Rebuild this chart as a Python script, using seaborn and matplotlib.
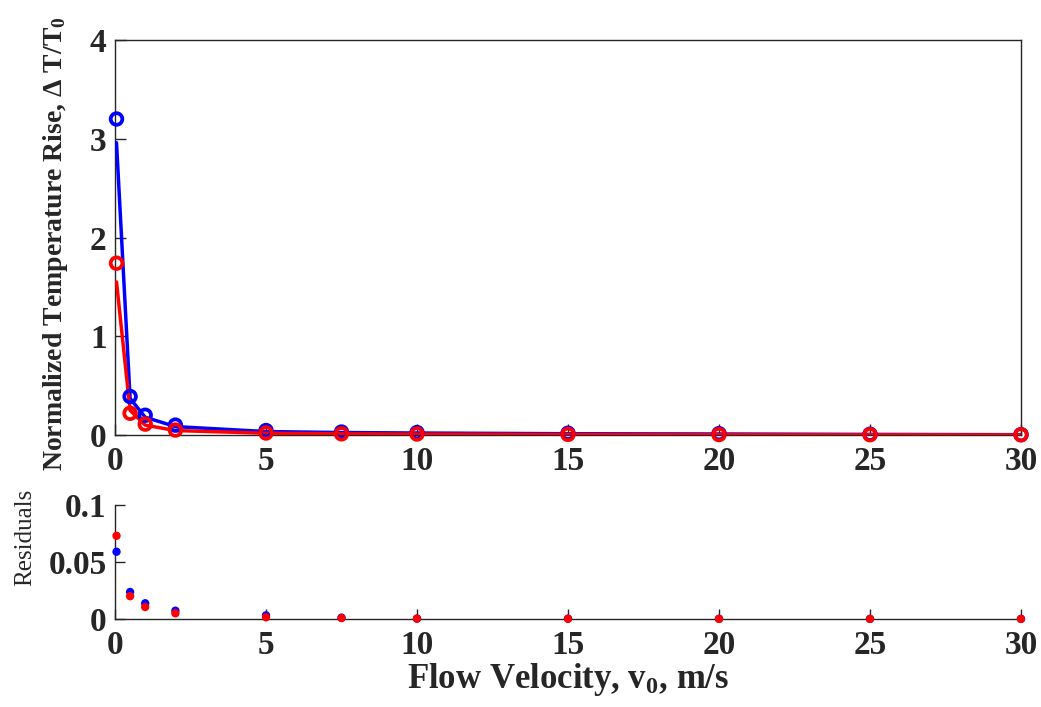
import matplotlib
matplotlib.use("Agg")
import matplotlib.pyplot as plt
import seaborn as sns
import pandas as pd

# ---- data ----
velocity = [0.05, 0.5, 1, 2, 5, 7.5, 10, 15, 20, 25, 30]
blue_data = [3.2, 0.39, 0.20, 0.10, 0.045, 0.030, 0.025, 0.018, 0.014, 0.008, 0.004]
red_data = [1.74, 0.22, 0.11, 0.05, 0.020, 0.012, 0.010, 0.006, 0.004, 0.003, 0.002]
blue_fit = [2.96, 0.37, 0.18, 0.085, 0.035, 0.025, 0.020, 0.013, 0.010, 0.006, 0.003]
red_fit = [1.55, 0.25, 0.10, 0.045, 0.018, 0.012, 0.009, 0.006, 0.004, 0.002, 0.001]
blue_resid = [0.059, 0.0237, 0.0138, 0.0073, 0.0032, 0.0012, 0.0004, 0.0003, 0.0002, 0.0001, 0.0001]
red_resid = [0.073, 0.0200, 0.0105, 0.0050, 0.0015, 0.0008, 0.0003, 0.0002, 0.0001, 0.0001, 0.0001]
xticks = [0, 5, 10, 15, 20, 25, 30]
top_yticks = [0, 1, 2, 3, 4]
bot_yticks = [0, 0.05, 0.1]
bot_yticklabels = ["0", "0.05", "0.1"]

sns.set_theme(style="white")
plt.rcParams["font.family"] = ["Liberation Serif", "DejaVu Serif"]
plt.rcParams["mathtext.fontset"] = "custom"
plt.rcParams["mathtext.rm"] = "Liberation Serif:bold"
plt.rcParams["mathtext.it"] = "Liberation Serif:bold:italic"
plt.rcParams["mathtext.bf"] = "Liberation Serif:bold"

BLUE = "#0000FF"
RED = "#FF0000"
DARK = "#262626"

df = pd.DataFrame({
    "v": velocity, "bd": blue_data, "rd": red_data,
    "bf": blue_fit, "rf": red_fit, "br": blue_resid, "rr": red_resid,
})

fig = plt.figure(figsize=(10.41, 7.07), dpi=100)
ax1 = fig.add_axes([115 / 1041, 1 - 435 / 707, 906 / 1041, 395 / 707])
ax2 = fig.add_axes([115 / 1041, 1 - 619 / 707, 906 / 1041, 114 / 707])

# top panel
sns.lineplot(data=df, x="v", y="bf", ax=ax1, color=BLUE, lw=2.5, zorder=3)
sns.lineplot(data=df, x="v", y="rf", ax=ax1, color=RED, lw=2.5, zorder=4)
sns.scatterplot(data=df, x="v", y="bd", ax=ax1, marker="o", s=70,
                facecolor="none", edgecolor=BLUE, linewidth=2.7, zorder=5,
                clip_on=False)
sns.scatterplot(data=df, x="v", y="rd", ax=ax1, marker="o", s=70,
                facecolor="none", edgecolor=RED, linewidth=2.7, zorder=6,
                clip_on=False)

ax1.set_xlim(0, 30)
ax1.set_ylim(0, 4)
ax1.set_xticks(xticks)
ax1.set_yticks(top_yticks)
ax1.set_xticklabels([str(t) for t in xticks])
ax1.set_yticklabels([str(t) for t in top_yticks])
ax1.set_xlabel("")
ax1.set_ylabel("Normalized Temperature Rise, $\\Delta$ T/T$_{\\rm 0}$",
               fontsize=20, fontweight="bold", color=DARK, labelpad=4)
ax1.yaxis.set_label_coords(-0.05, 0.485)
for s in ax1.spines.values():
    s.set_color(DARK)
    s.set_linewidth(1.0)
ax1.tick_params(axis="both", direction="in", length=8, width=1, colors=DARK,
                labelsize=24, left=True, bottom=True, top=False, right=False)
ax1.tick_params(axis="x", pad=8)
ax1.tick_params(axis="y", pad=6)
for lab in ax1.get_xticklabels() + ax1.get_yticklabels():
    lab.set_fontweight("bold")

# bottom panel
sns.scatterplot(data=df, x="v", y="br", ax=ax2, color=BLUE, s=36,
                edgecolor="none", zorder=5, clip_on=False)
sns.scatterplot(data=df, x="v", y="rr", ax=ax2, color=RED, s=36,
                edgecolor="none", zorder=6, clip_on=False)
ax2.set_xlim(0, 30)
ax2.set_ylim(0, 0.1)
ax2.set_xticks(xticks)
ax2.set_yticks(bot_yticks)
ax2.set_xticklabels([str(t) for t in xticks])
ax2.set_yticklabels(bot_yticklabels)
ax2.set_xlabel("Flow Velocity, v$_{\\rm 0}$, m/s", fontsize=25,
               fontweight="bold", color=DARK, labelpad=0)
ax2.set_ylabel("Residuals", fontsize=18, color=DARK)
ax2.yaxis.set_label_coords(-0.087, 0.72)
ax2.spines["top"].set_visible(False)
ax2.spines["right"].set_visible(False)
for s in ax2.spines.values():
    s.set_color(DARK)
    s.set_linewidth(1.0)
ax2.tick_params(axis="both", direction="in", length=7, width=1, colors=DARK,
                labelsize=24, left=True, bottom=True, top=False, right=False)
ax2.tick_params(axis="x", pad=8)
ax2.tick_params(axis="y", pad=6)
for lab in ax2.get_xticklabels() + ax2.get_yticklabels():
    lab.set_fontweight("bold")

fig.savefig("out.png", dpi=100, facecolor="white")
